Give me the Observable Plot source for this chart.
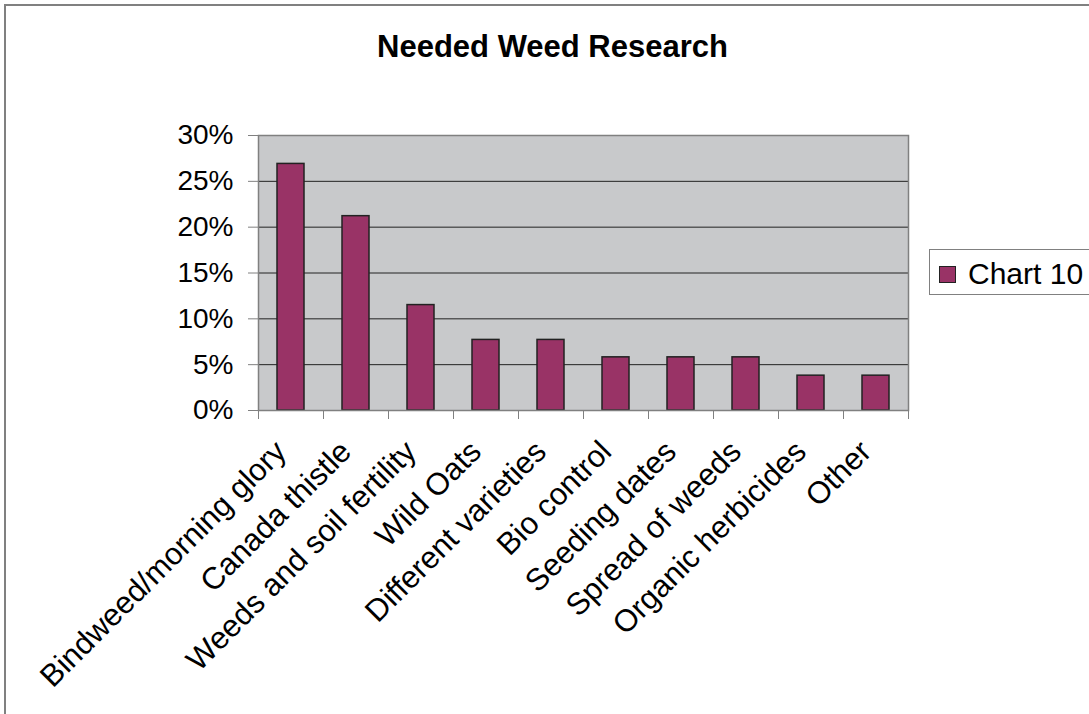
<!DOCTYPE html>
<html>
<head>
<meta charset="utf-8">
<script src="https://cdn.jsdelivr.net/npm/d3@7"></script>
<script src="https://cdn.jsdelivr.net/npm/@observablehq/plot@0.6"></script>
<style>
  html, body { margin: 0; padding: 0; background: #fff; overflow: hidden; }
  #wrap { position: relative; width: 1089px; height: 714px; font-family: "Liberation Sans", Arial, sans-serif; }
  #border { position: absolute; left: 4px; top: 4px; width: 1200px; height: 800px; border: 2px solid #808080; box-sizing: border-box; }
  #title { position: absolute; left: 0; width: 1105px; top: 31px; text-align: center; font-weight: bold; font-size: 31px; line-height: 31px; color: #000; }
  #legend { position: absolute; left: 929px; top: 249px; width: 200px; height: 46px; border: 1px solid #808080; box-sizing: border-box; background: #fff; }
  #legend .sw { position: absolute; left: 9px; top: 16px; width: 17px; height: 17px; background: #993366; border: 1px solid #222; box-sizing: border-box; }
  #legend .lb { position: absolute; left: 38px; top: 9px; font-size: 30px; line-height: 30px; color: #000; white-space: nowrap; }
  #chart { position: absolute; left: 0; top: 0; }
</style>
</head>
<body>
<div id="wrap">
  <div id="border"></div>
  <div id="chart"></div>
  <div id="title">Needed Weed Research</div>
  <div id="legend"><div class="sw"></div><div class="lb">Chart 10</div></div>
</div>
<script>
const categories = ["Bindweed/morning glory", "Canada thistle", "Weeds and soil fertility", "Wild Oats", "Different varieties", "Bio control", "Seeding dates", "Spread of weeds", "Organic herbicides", "Other"];
const values = [26.9, 21.2, 11.5, 7.7, 7.7, 5.8, 5.8, 5.8, 3.8, 3.8];
const yTicks = [0, 5, 10, 15, 20, 25, 30];
const gridTicks = [5, 10, 15, 20, 25];
const seriesName = "Chart 10";

const data = categories.map((c, i) => ({category: c, value: values[i]}));

const plot = Plot.plot({
  width: 1089,
  height: 714,
  marginLeft: 258,
  marginRight: 181,
  marginTop: 135,
  marginBottom: 304,
  style: {fontFamily: '"Liberation Sans", Arial, sans-serif', fontSize: "28px", color: "#000", background: "transparent", overflow: "visible"},
  x: {domain: categories, paddingInner: 0.58, paddingOuter: 0.29, label: null},
  y: {domain: [0, 30], label: null},
  marks: [
    Plot.frame({fill: "#c8c9cb"}),
    Plot.ruleY(gridTicks, {stroke: "#222", strokeWidth: 1}),
    Plot.barY(data, {x: "category", y: "value", fill: "#993366", stroke: "#222", strokeWidth: 1.5}),
    Plot.frame({stroke: "#808080", strokeWidth: 1.5}),
    Plot.axisY({ticks: yTicks, tickFormat: d => d + "%", tickSize: 10, tickPadding: 15, stroke: "#808080", fontSize: 28, label: null}),
    Plot.axisX({tickSize: 9, dx: -32.5, tickFormat: () => "", stroke: "#808080", label: null}),
    Plot.axisX(["Other"], {tickSize: 9, dx: 32.5, tickFormat: () => "", stroke: "#808080", label: null}),
    Plot.axisX({tickSize: 0, tickRotate: -45, tickPadding: 36, dx: -10, fontSize: 31, label: null})
  ]
});
document.getElementById("chart").appendChild(plot);
</script>
</body>
</html>
